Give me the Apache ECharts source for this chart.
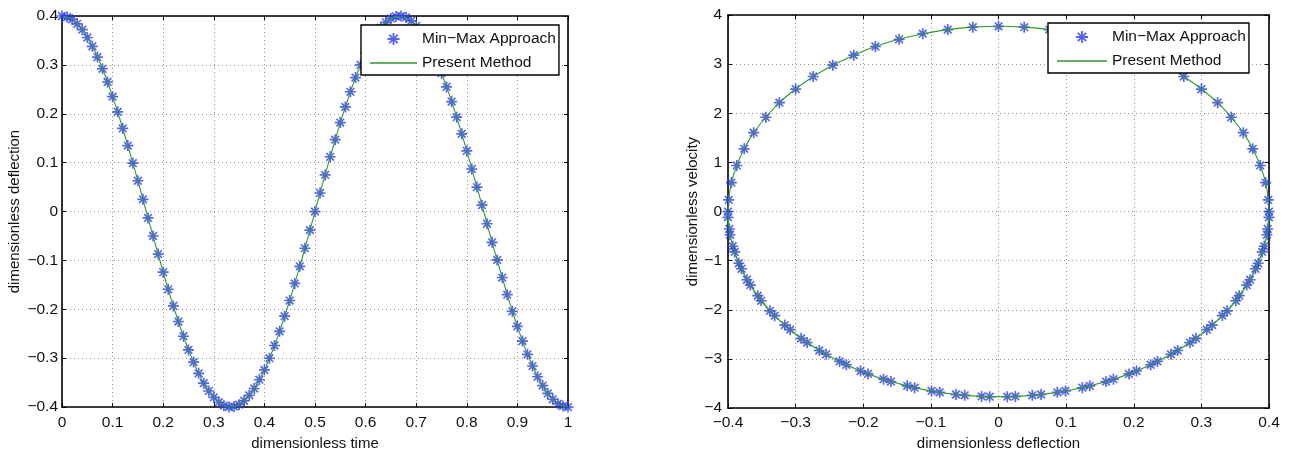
<!DOCTYPE html>
<html><head><meta charset="utf-8">
<script src="https://cdn.jsdelivr.net/npm/echarts@6/dist/echarts.min.js"></script>
<style>html,body{margin:0;padding:0;background:#fff}#c{width:1289px;height:456px}</style>
</head><body><div id="c"></div>
<script>
// dimensionless time samples
const time = [0,0.01,0.02,0.03,0.04,0.05,0.06,0.07,0.08,0.09,
0.10,0.11,0.12,0.13,0.14,0.15,0.16,0.17,0.18,0.19,
0.20,0.21,0.22,0.23,0.24,0.25,0.26,0.27,0.28,0.29,
0.30,0.31,0.32,0.33,0.34,0.35,0.36,0.37,0.38,0.39,
0.40,0.41,0.42,0.43,0.44,0.45,0.46,0.47,0.48,0.49,
0.50,0.51,0.52,0.53,0.54,0.55,0.56,0.57,0.58,0.59,
0.60,0.61,0.62,0.63,0.64,0.65,0.66,0.67,0.68,0.69,
0.70,0.71,0.72,0.73,0.74,0.75,0.76,0.77,0.78,0.79,
0.80,0.81,0.82,0.83,0.84,0.85,0.86,0.87,0.88,0.89,
0.90,0.91,0.92,0.93,0.94,0.95,0.96,0.97,0.98,0.99,
1.00];
// dimensionless deflection
const deflection = [0.400,0.398,0.393,0.384,0.372,0.356,0.338,0.316,0.292,0.265,
0.235,0.204,0.170,0.135,0.099,0.063,0.025,-0.013,-0.050,-0.087,
-0.124,-0.159,-0.193,-0.225,-0.255,-0.283,-0.308,-0.331,-0.351,-0.367,
-0.380,-0.390,-0.397,-0.400,-0.399,-0.395,-0.387,-0.376,-0.362,-0.344,
-0.324,-0.300,-0.274,-0.245,-0.214,-0.182,-0.147,-0.112,-0.075,-0.038,
0.000,0.038,0.075,0.112,0.147,0.182,0.214,0.245,0.274,0.300,
0.324,0.344,0.362,0.376,0.387,0.395,0.399,0.400,0.397,0.390,
0.380,0.367,0.351,0.331,0.308,0.283,0.255,0.225,0.193,0.159,
0.124,0.087,0.050,0.013,-0.025,-0.063,-0.099,-0.135,-0.170,-0.204,
-0.235,-0.265,-0.292,-0.316,-0.338,-0.356,-0.372,-0.384,-0.393,-0.398,
-0.400];
// dimensionless velocity
const velocity = [0.000,-0.355,-0.706,-1.052,-1.388,-1.712,-2.020,-2.311,-2.581,-2.828,
-3.050,-3.245,-3.411,-3.547,-3.651,-3.723,-3.762,-3.768,-3.740,-3.679,
-3.585,-3.460,-3.304,-3.118,-2.905,-2.666,-2.403,-2.119,-1.816,-1.497,
-1.165,-0.822,-0.472,-0.118,0.237,0.590,0.938,1.277,1.605,1.919,
2.216,2.493,2.748,2.979,3.183,3.359,3.505,3.620,3.703,3.753,
3.770,3.753,3.703,3.620,3.505,3.359,3.183,2.979,2.748,2.493,
2.216,1.919,1.605,1.277,0.938,0.590,0.237,-0.118,-0.472,-0.822,
-1.165,-1.497,-1.816,-2.119,-2.403,-2.666,-2.905,-3.118,-3.304,-3.460,
-3.585,-3.679,-3.740,-3.768,-3.762,-3.723,-3.651,-3.547,-3.411,-3.245,
-3.050,-2.828,-2.581,-2.311,-2.020,-1.712,-1.388,-1.052,-0.706,-0.355,
0.000];
const seriesNames = ['Min\u2212Max Approach', 'Present Method'];
const axisNames = ['dimensionless time', 'dimensionless deflection', 'dimensionless deflection', 'dimensionless velocity'];

const FONT = 'Liberation Sans, Arial, Helvetica, sans-serif';
const ASTER = 'path://M8.5,0L11.5,0L11.5,20L8.5,20ZM0,8.5L20,8.5L20,11.5L0,11.5ZM4.1,2L18,15.9L15.9,18L2,4.1ZM15.9,2L18,4.1L4.1,18L2,15.9Z';
const LINEICON = 'path://M0,0L50,0L50,1.4L0,1.4Z';
const MARK = '#2b3de8', LINE = '#2f9a2f';
const FS = 15.5;
const fmt = d => v => { const s = (Math.round(v * Math.pow(10, d)) / Math.pow(10, d)).toString(); return s.replace('-', '\u2212'); };

function mainAxis(gi, pos, min, max, step, dec, name, gap, margin) {
  return {
    type: 'value', gridIndex: gi, position: pos, min, max, interval: step,
    name, nameLocation: 'middle', nameGap: gap,
    nameTextStyle: { fontFamily: FONT, fontSize: 15, color: '#111' },
    axisLine: { show: true, onZero: false, lineStyle: { color: '#000', width: 1.6 } },
    axisTick: { show: true, inside: true, length: 4, lineStyle: { color: '#000', width: 1 } },
    axisLabel: { show: true, fontFamily: FONT, fontSize: FS, color: '#111', margin, formatter: fmt(dec), showMinLabel: true, showMaxLabel: true },
    splitLine: { show: true, lineStyle: { color: '#8f8f8f', type: [1, 3], width: 1 } }
  };
}
function mirrorAxis(gi, pos, min, max, step) {
  return {
    type: 'value', gridIndex: gi, position: pos, min, max, interval: step,
    axisLine: { show: true, onZero: false, lineStyle: { color: '#000', width: 1.6 } },
    axisTick: { show: true, inside: true, length: 4, lineStyle: { color: '#000', width: 1 } },
    axisLabel: { show: false }, splitLine: { show: false }
  };
}
function legend(left, top, w) {
  return {
    left, top, orient: 'vertical',
    data: [{ name: seriesNames[0], icon: ASTER }, { name: seriesNames[1], icon: LINEICON }],
    itemWidth: w, itemHeight: 12, itemGap: 8,
    padding: [6, 3, 4, 9],
    borderColor: '#000', borderWidth: 1.4, backgroundColor: '#fff',
    textStyle: { fontFamily: FONT, fontSize: FS, color: '#111' },
    selectedMode: false
  };
}

const leftPts = time.map((t, i) => [t, deflection[i]]);
const rightPts = deflection.map((d, i) => [d, velocity[i]]);

const option = {
  animation: false,
  backgroundColor: '#fff',
  grid: [
    { left: 62, top: 16, width: 506, height: 398 },
    { left: 728, top: 15, width: 541, height: 397 }
  ],
  xAxis: [
    mainAxis(0, 'bottom', 0, 1, 0.1, 1, axisNames[0], 24, 8),
    mirrorAxis(0, 'top', 0, 1, 0.1),
    mainAxis(1, 'bottom', -0.4, 0.4, 0.1, 1, axisNames[2], 22, 7),
    mirrorAxis(1, 'top', -0.4, 0.4, 0.1)
  ],
  yAxis: [
    mainAxis(0, 'left', -0.4, 0.4, 0.1, 1, axisNames[1], 40, 4),
    mirrorAxis(0, 'right', -0.4, 0.4, 0.1),
    mainAxis(1, 'left', -4, 4, 1, 0, axisNames[3], 27, 6),
    mirrorAxis(1, 'right', -4, 4, 1)
  ],
  legend: [legend(361, 25, 47), legend(1048, 23, 50)],
  series: [
    { name: seriesNames[0], type: 'scatter', xAxisIndex: 0, yAxisIndex: 0, data: leftPts,
      symbol: ASTER, symbolSize: 11, itemStyle: { color: MARK }, z: 2 },
    { name: seriesNames[1], type: 'line', xAxisIndex: 0, yAxisIndex: 0, data: leftPts,
      symbol: 'none', smooth: 0.3, lineStyle: { color: LINE, width: 1.1 }, itemStyle: { color: LINE }, z: 3 },
    { name: seriesNames[0], type: 'scatter', xAxisIndex: 2, yAxisIndex: 2, data: rightPts,
      symbol: ASTER, symbolSize: 11, itemStyle: { color: MARK }, z: 2 },
    { name: seriesNames[1], type: 'line', xAxisIndex: 2, yAxisIndex: 2, data: rightPts,
      symbol: 'none', smooth: 0.3, lineStyle: { color: LINE, width: 1.1 }, itemStyle: { color: LINE }, z: 3 }
  ]
};
const chart = echarts.init(document.getElementById('c'), null, { renderer: 'canvas' });
chart.setOption(option);
</script></body></html>
